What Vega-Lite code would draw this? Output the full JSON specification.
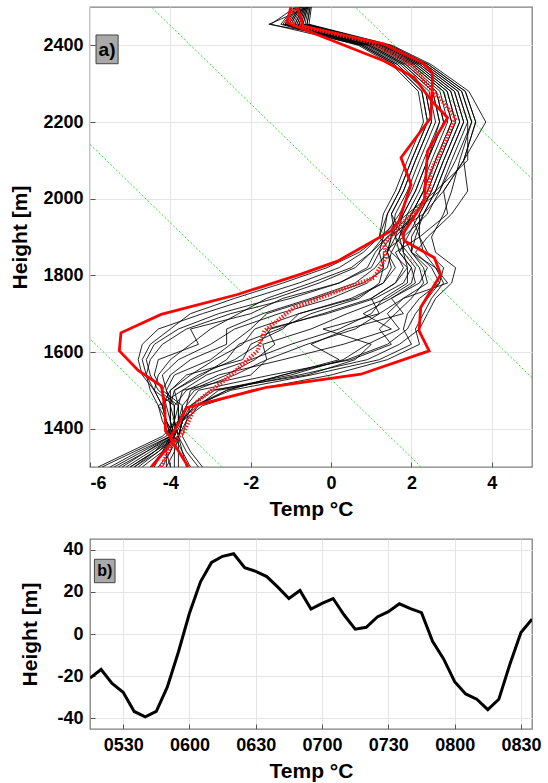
{
"$schema":"https://vega.github.io/schema/vega-lite/v6.json",
"padding":{"left":9,"top":6,"right":15,"bottom":5},
"spacing":18,
"config":{"font":"Liberation Sans","view":{"stroke":"#808080","strokeWidth":1.3},
"axis":{"labelFont":"Liberation Sans","labelFontSize":18,"labelFontWeight":"bold","labelColor":"#000","titleFont":"Liberation Sans","titleFontSize":21,"titleFontWeight":"bold","titleColor":"#000","gridColor":"#e4e4e4","gridWidth":1,"domain":false,"tickColor":"#555","tickSize":-5,"labelPadding":12}},
"datasets":{
"adiab":[{"l":"A","h":2500,"t":0.6},{"l":"A","h":1300,"t":12.36},{"l":"B","h":2500,"t":-4.475},{"l":"B","h":1300,"t":7.28},{"l":"C","h":2500,"t":-9.51},{"l":"C","h":1300,"t":2.24},{"l":"D","h":2500,"t":-14.5},{"l":"D","h":1300,"t":-2.72}],
"red":[
{"s":"cold","h":1300,"t":-4.47},{"s":"cold","h":1368,"t":-3.93},{"s":"cold","h":1394,"t":-4.12},{"s":"cold","h":1455,"t":-4.14},{"s":"cold","h":1511,"t":-4.22},{"s":"cold","h":1552,"t":-4.8},{"s":"cold","h":1603,"t":-5.27},{"s":"cold","h":1650,"t":-5.23},{"s":"cold","h":1698,"t":-4.23},{"s":"cold","h":1750,"t":-2.33},{"s":"cold","h":1803,"t":-0.75},{"s":"cold","h":1837,"t":0.16},{"s":"cold","h":1916,"t":1.49},{"s":"cold","h":1942,"t":1.69},{"s":"cold","h":2037,"t":1.99},{"s":"cold","h":2107,"t":1.74},{"s":"cold","h":2211,"t":2.48},{"s":"cold","h":2300,"t":2.52},{"s":"cold","h":2329,"t":2.52},{"s":"cold","h":2355,"t":2.27},{"s":"cold","h":2403,"t":1.32},{"s":"cold","h":2450,"t":-0.7},{"s":"cold","h":2470,"t":-0.75},{"s":"cold","h":2500,"t":-0.85},
{"s":"warm","h":1300,"t":-3.55},{"s":"warm","h":1376,"t":-4.0},{"s":"warm","h":1420,"t":-3.76},{"s":"warm","h":1455,"t":-3.6},{"s":"warm","h":1508,"t":-1.6},{"s":"warm","h":1542,"t":0.74},{"s":"warm","h":1603,"t":2.44},{"s":"warm","h":1655,"t":2.19},{"s":"warm","h":1716,"t":2.23},{"s":"warm","h":1802,"t":2.73},{"s":"warm","h":1846,"t":2.57},{"s":"warm","h":1890,"t":1.82},{"s":"warm","h":1907,"t":1.78},{"s":"warm","h":1994,"t":2.32},{"s":"warm","h":2124,"t":2.4},{"s":"warm","h":2211,"t":2.9},{"s":"warm","h":2255,"t":2.5},{"s":"warm","h":2316,"t":2.07},{"s":"warm","h":2359,"t":1.32},{"s":"warm","h":2459,"t":-1.1},{"s":"warm","h":2500,"t":-1.0},
{"s":"mean","h":1300,"t":-4.23},{"s":"mean","h":1359,"t":-3.98},{"s":"mean","h":1394,"t":-3.65},{"s":"mean","h":1472,"t":-3.32},{"s":"mean","h":1533,"t":-2.57},{"s":"mean","h":1603,"t":-1.83},{"s":"mean","h":1655,"t":-1.66},{"s":"mean","h":1716,"t":-0.92},{"s":"mean","h":1794,"t":1.07},{"s":"mean","h":1846,"t":1.36},{"s":"mean","h":1881,"t":1.32},{"s":"mean","h":1933,"t":1.74},{"s":"mean","h":1985,"t":2.27},{"s":"mean","h":2020,"t":2.44},{"s":"mean","h":2072,"t":2.48},{"s":"mean","h":2124,"t":2.73},{"s":"mean","h":2211,"t":3.1},{"s":"mean","h":2250,"t":2.8},{"s":"mean","h":2290,"t":2.45},{"s":"mean","h":2342,"t":2.07},{"s":"mean","h":2368,"t":1.74},{"s":"mean","h":2410,"t":0.9},{"s":"mean","h":2455,"t":-0.95},{"s":"mean","h":2470,"t":-1.05},{"s":"mean","h":2500,"t":-0.9}],
"ts":[{"time":"2020-01-01T05:15","dz":-20.9},{"time":"2020-01-01T05:20","dz":-16.8},{"time":"2020-01-01T05:25","dz":-23.4},{"time":"2020-01-01T05:30","dz":-27.6},{"time":"2020-01-01T05:35","dz":-36.7},{"time":"2020-01-01T05:40","dz":-39.2},{"time":"2020-01-01T05:45","dz":-36.7},{"time":"2020-01-01T05:50","dz":-25.1},{"time":"2020-01-01T05:55","dz":-8.5},{"time":"2020-01-01T06:00","dz":9.8},{"time":"2020-01-01T06:05","dz":24.7},{"time":"2020-01-01T06:10","dz":33.9},{"time":"2020-01-01T06:15","dz":36.8},{"time":"2020-01-01T06:20","dz":38.0},{"time":"2020-01-01T06:25","dz":31.4},{"time":"2020-01-01T06:30","dz":29.7},{"time":"2020-01-01T06:35","dz":27.2},{"time":"2020-01-01T06:40","dz":22.2},{"time":"2020-01-01T06:45","dz":16.8},{"time":"2020-01-01T06:50","dz":20.6},{"time":"2020-01-01T06:55","dz":11.8},{"time":"2020-01-01T07:00","dz":14.5},{"time":"2020-01-01T07:05","dz":16.8},{"time":"2020-01-01T07:10","dz":9.0},{"time":"2020-01-01T07:15","dz":2.3},{"time":"2020-01-01T07:20","dz":3.2},{"time":"2020-01-01T07:25","dz":8.1},{"time":"2020-01-01T07:30","dz":10.6},{"time":"2020-01-01T07:35","dz":14.3},{"time":"2020-01-01T07:40","dz":12.0},{"time":"2020-01-01T07:45","dz":10.1},{"time":"2020-01-01T07:50","dz":-3.5},{"time":"2020-01-01T07:55","dz":-11.8},{"time":"2020-01-01T08:00","dz":-22.6},{"time":"2020-01-01T08:05","dz":-28.4},{"time":"2020-01-01T08:10","dz":-30.9},{"time":"2020-01-01T08:15","dz":-35.8},{"time":"2020-01-01T08:20","dz":-30.9},{"time":"2020-01-01T08:25","dz":-14.3},{"time":"2020-01-01T08:30","dz":0.7},{"time":"2020-01-01T08:35","dz":7.0}],
"prof":[
{"p":1,"h":1300,"t":-5.7},{"p":1,"h":1340,"t":-4.9},{"p":1,"h":1380,"t":-4.1},{"p":1,"h":1420,"t":-3.9},{"p":1,"h":1460,"t":-3.8},{"p":1,"h":1500,"t":-4.3},{"p":1,"h":1540,"t":-4.5},{"p":1,"h":1580,"t":-4.6},{"p":1,"h":1620,"t":-4.4},{"p":1,"h":1660,"t":-3.8},{"p":1,"h":1700,"t":-2.8},{"p":1,"h":1740,"t":-1.4},{"p":1,"h":1780,"t":-0.3},{"p":1,"h":1820,"t":0.6},{"p":1,"h":1860,"t":1.0},{"p":1,"h":1900,"t":1.3},{"p":1,"h":1960,"t":1.7},{"p":1,"h":2020,"t":2.0},{"p":1,"h":2100,"t":2.3},{"p":1,"h":2200,"t":2.7},{"p":1,"h":2280,"t":2.53},{"p":1,"h":2350,"t":1.79},{"p":1,"h":2400,"t":0.92},{"p":1,"h":2455,"t":-1.05},{"p":1,"h":2500,"t":-0.79},
{"p":2,"h":1300,"t":-5.4},{"p":2,"h":1340,"t":-4.7},{"p":2,"h":1380,"t":-4.0},{"p":2,"h":1420,"t":-3.8},{"p":2,"h":1460,"t":-3.7},{"p":2,"h":1500,"t":-4.2},{"p":2,"h":1540,"t":-4.4},{"p":2,"h":1580,"t":-4.3},{"p":2,"h":1620,"t":-3.3},{"p":2,"h":1660,"t":-3.5},{"p":2,"h":1700,"t":-2.0},{"p":2,"h":1740,"t":-1.2},{"p":2,"h":1780,"t":0.2},{"p":2,"h":1820,"t":1.0},{"p":2,"h":1860,"t":1.2},{"p":2,"h":1900,"t":1.5},{"p":2,"h":1960,"t":2.1},{"p":2,"h":2020,"t":2.4},{"p":2,"h":2100,"t":2.7},{"p":2,"h":2200,"t":3.1},{"p":2,"h":2280,"t":2.89},{"p":2,"h":2350,"t":2.07},{"p":2,"h":2400,"t":1.16},{"p":2,"h":2455,"t":-0.85},{"p":2,"h":2500,"t":-0.67},
{"p":3,"h":1300,"t":-5.1},{"p":3,"h":1340,"t":-4.5},{"p":3,"h":1380,"t":-3.9},{"p":3,"h":1420,"t":-3.9},{"p":3,"h":1460,"t":-3.9},{"p":3,"h":1500,"t":-4.4},{"p":3,"h":1540,"t":-4.7},{"p":3,"h":1580,"t":-4.8},{"p":3,"h":1620,"t":-4.7},{"p":3,"h":1660,"t":-4.3},{"p":3,"h":1700,"t":-3.2},{"p":3,"h":1740,"t":-2.0},{"p":3,"h":1780,"t":-0.8},{"p":3,"h":1820,"t":0.2},{"p":3,"h":1860,"t":0.8},{"p":3,"h":1900,"t":1.2},{"p":3,"h":1960,"t":1.4},{"p":3,"h":2020,"t":1.7},{"p":3,"h":2100,"t":2.0},{"p":3,"h":2200,"t":2.4},{"p":3,"h":2280,"t":2.26},{"p":3,"h":2350,"t":1.58},{"p":3,"h":2400,"t":0.74},{"p":3,"h":2455,"t":-1.5},{"p":3,"h":2500,"t":-0.88},
{"p":4,"h":1300,"t":-4.8},{"p":4,"h":1340,"t":-4.3},{"p":4,"h":1380,"t":-3.9},{"p":4,"h":1420,"t":-4.0},{"p":4,"h":1460,"t":-4.0},{"p":4,"h":1500,"t":-4.1},{"p":4,"h":1540,"t":-4.2},{"p":4,"h":1580,"t":-3.8},{"p":4,"h":1620,"t":-3.0},{"p":4,"h":1660,"t":-2.4},{"p":4,"h":1700,"t":-1.3},{"p":4,"h":1740,"t":0.0},{"p":4,"h":1780,"t":0.9},{"p":4,"h":1820,"t":1.3},{"p":4,"h":1860,"t":1.3},{"p":4,"h":1900,"t":1.8},{"p":4,"h":1960,"t":2.4},{"p":4,"h":2020,"t":2.7},{"p":4,"h":2100,"t":3.0},{"p":4,"h":2200,"t":3.4},{"p":4,"h":2280,"t":3.16},{"p":4,"h":2350,"t":2.28},{"p":4,"h":2400,"t":1.34},{"p":4,"h":2455,"t":-0.7},{"p":4,"h":2500,"t":-0.58},
{"p":5,"h":1300,"t":-4.5},{"p":5,"h":1340,"t":-4.2},{"p":5,"h":1380,"t":-3.9},{"p":5,"h":1420,"t":-4.1},{"p":5,"h":1460,"t":-4.2},{"p":5,"h":1500,"t":-4.0},{"p":5,"h":1540,"t":-3.6},{"p":5,"h":1580,"t":-2.2},{"p":5,"h":1620,"t":-2.0},{"p":5,"h":1660,"t":-1.2},{"p":5,"h":1700,"t":-0.8},{"p":5,"h":1740,"t":0.5},{"p":5,"h":1780,"t":1.3},{"p":5,"h":1820,"t":1.5},{"p":5,"h":1860,"t":1.4},{"p":5,"h":1900,"t":1.5},{"p":5,"h":1960,"t":1.8},{"p":5,"h":2020,"t":2.1},{"p":5,"h":2100,"t":2.4},{"p":5,"h":2200,"t":2.8},{"p":5,"h":2280,"t":2.62},{"p":5,"h":2350,"t":1.86},{"p":5,"h":2400,"t":0.98},{"p":5,"h":2455,"t":-1.0},{"p":5,"h":2500,"t":-0.76},
{"p":6,"h":1300,"t":-4.2},{"p":6,"h":1340,"t":-4.0},{"p":6,"h":1380,"t":-3.9},{"p":6,"h":1420,"t":-3.8},{"p":6,"h":1460,"t":-3.8},{"p":6,"h":1500,"t":-3.9},{"p":6,"h":1540,"t":-3.3},{"p":6,"h":1580,"t":-2.4},{"p":6,"h":1620,"t":-1.8},{"p":6,"h":1660,"t":-1.5},{"p":6,"h":1700,"t":-0.2},{"p":6,"h":1740,"t":1.0},{"p":6,"h":1780,"t":1.6},{"p":6,"h":1820,"t":1.8},{"p":6,"h":1860,"t":1.6},{"p":6,"h":1900,"t":2.2},{"p":6,"h":1960,"t":2.9},{"p":6,"h":2020,"t":2.8},{"p":6,"h":2100,"t":3.3},{"p":6,"h":2200,"t":3.6},{"p":6,"h":2280,"t":3.34},{"p":6,"h":2350,"t":2.42},{"p":6,"h":2400,"t":1.46},{"p":6,"h":2455,"t":-0.6},{"p":6,"h":2500,"t":-0.52},
{"p":7,"h":1300,"t":-3.8},{"p":7,"h":1340,"t":-3.8},{"p":7,"h":1380,"t":-3.8},{"p":7,"h":1420,"t":-3.9},{"p":7,"h":1460,"t":-3.9},{"p":7,"h":1500,"t":-3.6},{"p":7,"h":1540,"t":-2.8},{"p":7,"h":1580,"t":-1.2},{"p":7,"h":1620,"t":0.3},{"p":7,"h":1660,"t":1.5},{"p":7,"h":1700,"t":0.8},{"p":7,"h":1740,"t":1.5},{"p":7,"h":1780,"t":2.1},{"p":7,"h":1820,"t":2.0},{"p":7,"h":1860,"t":1.7},{"p":7,"h":1900,"t":1.9},{"p":7,"h":1960,"t":2.2},{"p":7,"h":2020,"t":2.5},{"p":7,"h":2100,"t":2.8},{"p":7,"h":2200,"t":3.2},{"p":7,"h":2280,"t":2.98},{"p":7,"h":2350,"t":2.14},{"p":7,"h":2400,"t":1.22},{"p":7,"h":2455,"t":-0.8},{"p":7,"h":2500,"t":-0.64},
{"p":8,"h":1300,"t":-3.5},{"p":8,"h":1340,"t":-3.7},{"p":8,"h":1380,"t":-3.9},{"p":8,"h":1420,"t":-3.8},{"p":8,"h":1460,"t":-3.6},{"p":8,"h":1500,"t":-3.3},{"p":8,"h":1540,"t":-1.5},{"p":8,"h":1580,"t":0.5},{"p":8,"h":1620,"t":1.5},{"p":8,"h":1660,"t":1.2},{"p":8,"h":1700,"t":1.6},{"p":8,"h":1740,"t":2.0},{"p":8,"h":1780,"t":2.3},{"p":8,"h":1820,"t":2.2},{"p":8,"h":1860,"t":1.9},{"p":8,"h":1900,"t":1.6},{"p":8,"h":1960,"t":1.5},{"p":8,"h":2020,"t":1.8},{"p":8,"h":2100,"t":2.1},{"p":8,"h":2200,"t":2.5},{"p":8,"h":2280,"t":2.35},{"p":8,"h":2350,"t":1.65},{"p":8,"h":2400,"t":0.8},{"p":8,"h":2455,"t":-1.15},{"p":8,"h":2500,"t":-0.85},
{"p":9,"h":1300,"t":-3.3},{"p":9,"h":1340,"t":-3.6},{"p":9,"h":1380,"t":-3.8},{"p":9,"h":1420,"t":-3.7},{"p":9,"h":1460,"t":-3.4},{"p":9,"h":1500,"t":-2.5},{"p":9,"h":1540,"t":-0.5},{"p":9,"h":1580,"t":1.2},{"p":9,"h":1620,"t":2.0},{"p":9,"h":1660,"t":1.8},{"p":9,"h":1700,"t":1.9},{"p":9,"h":1740,"t":2.2},{"p":9,"h":1780,"t":2.7},{"p":9,"h":1820,"t":2.5},{"p":9,"h":1860,"t":2.1},{"p":9,"h":1900,"t":2.4},{"p":9,"h":1960,"t":3.0},{"p":9,"h":2020,"t":3.4},{"p":9,"h":2100,"t":3.3},{"p":9,"h":2200,"t":3.85},{"p":9,"h":2280,"t":3.43},{"p":9,"h":2350,"t":2.49},{"p":9,"h":2400,"t":1.52},{"p":9,"h":2455,"t":-0.55},{"p":9,"h":2500,"t":-0.49},
{"p":10,"h":1300,"t":-4.0},{"p":10,"h":1340,"t":-4.1},{"p":10,"h":1380,"t":-4.0},{"p":10,"h":1420,"t":-4.2},{"p":10,"h":1460,"t":-4.3},{"p":10,"h":1500,"t":-3.7},{"p":10,"h":1540,"t":-2.0},{"p":10,"h":1580,"t":-1.6},{"p":10,"h":1620,"t":-1.7},{"p":10,"h":1660,"t":-0.5},{"p":10,"h":1700,"t":0.4},{"p":10,"h":1740,"t":1.4},{"p":10,"h":1780,"t":2.0},{"p":10,"h":1820,"t":2.1},{"p":10,"h":1860,"t":1.8},{"p":10,"h":1900,"t":1.7},{"p":10,"h":1960,"t":1.9},{"p":10,"h":2020,"t":2.2},{"p":10,"h":2100,"t":2.5},{"p":10,"h":2200,"t":2.9},{"p":10,"h":2280,"t":2.71},{"p":10,"h":2350,"t":1.93},{"p":10,"h":2400,"t":1.04},{"p":10,"h":2455,"t":-0.95},{"p":10,"h":2500,"t":-0.73},
{"p":11,"h":1300,"t":-5.0},{"p":11,"h":1340,"t":-4.4},{"p":11,"h":1380,"t":-3.8},{"p":11,"h":1420,"t":-3.6},{"p":11,"h":1460,"t":-3.5},{"p":11,"h":1500,"t":-3.0},{"p":11,"h":1540,"t":-0.6},{"p":11,"h":1580,"t":0.6},{"p":11,"h":1620,"t":1.0},{"p":11,"h":1660,"t":-0.2},{"p":11,"h":1700,"t":1.2},{"p":11,"h":1740,"t":1.8},{"p":11,"h":1780,"t":2.9},{"p":11,"h":1820,"t":2.6},{"p":11,"h":1860,"t":2.0},{"p":11,"h":1900,"t":2.1},{"p":11,"h":1960,"t":2.3},{"p":11,"h":2020,"t":2.6},{"p":11,"h":2100,"t":2.9},{"p":11,"h":2200,"t":3.3},{"p":11,"h":2280,"t":3.07},{"p":11,"h":2350,"t":2.21},{"p":11,"h":2400,"t":1.28},{"p":11,"h":2455,"t":-0.75},{"p":11,"h":2500,"t":-0.61},
{"p":12,"h":1300,"t":-5.8},{"p":12,"h":1340,"t":-5.0},{"p":12,"h":1380,"t":-4.2},{"p":12,"h":1420,"t":-3.8},{"p":12,"h":1460,"t":-3.3},{"p":12,"h":1500,"t":-2.8},{"p":12,"h":1540,"t":-0.8},{"p":12,"h":1580,"t":0.9},{"p":12,"h":1620,"t":1.7},{"p":12,"h":1660,"t":2.2},{"p":12,"h":1700,"t":2.4},{"p":12,"h":1740,"t":2.6},{"p":12,"h":1780,"t":3.0},{"p":12,"h":1820,"t":3.1},{"p":12,"h":1860,"t":2.6},{"p":12,"h":1900,"t":2.5},{"p":12,"h":1960,"t":2.8},{"p":12,"h":2020,"t":3.0},{"p":12,"h":2100,"t":3.2},{"p":12,"h":2200,"t":3.5},{"p":12,"h":2280,"t":3.25},{"p":12,"h":2350,"t":2.35},{"p":12,"h":2400,"t":1.4},{"p":12,"h":2455,"t":-0.65},{"p":12,"h":2500,"t":-0.55},
{"p":13,"h":1300,"t":-5.2},{"p":13,"h":1340,"t":-4.6},{"p":13,"h":1380,"t":-4.0},{"p":13,"h":1420,"t":-4.0},{"p":13,"h":1460,"t":-4.0},{"p":13,"h":1500,"t":-4.0},{"p":13,"h":1540,"t":-3.5},{"p":13,"h":1580,"t":-2.9},{"p":13,"h":1620,"t":-2.2},{"p":13,"h":1660,"t":-1.9},{"p":13,"h":1700,"t":-0.8},{"p":13,"h":1740,"t":0.6},{"p":13,"h":1780,"t":1.3},{"p":13,"h":1820,"t":1.6},{"p":13,"h":1860,"t":1.4},{"p":13,"h":1900,"t":1.5},{"p":13,"h":1960,"t":1.6},{"p":13,"h":2020,"t":1.9},{"p":13,"h":2100,"t":2.2},{"p":13,"h":2200,"t":2.6},{"p":13,"h":2280,"t":2.44},{"p":13,"h":2350,"t":1.72},{"p":13,"h":2400,"t":0.86},{"p":13,"h":2455,"t":-1.1},{"p":13,"h":2500,"t":-0.82},
{"p":14,"h":1300,"t":-5.5},{"p":14,"h":1340,"t":-4.8},{"p":14,"h":1380,"t":-4.0},{"p":14,"h":1420,"t":-3.9},{"p":14,"h":1460,"t":-3.9},{"p":14,"h":1500,"t":-4.1},{"p":14,"h":1540,"t":-3.9},{"p":14,"h":1580,"t":-3.0},{"p":14,"h":1620,"t":-2.5},{"p":14,"h":1660,"t":-2.0},{"p":14,"h":1700,"t":-1.6},{"p":14,"h":1740,"t":-0.4},{"p":14,"h":1780,"t":0.8},{"p":14,"h":1820,"t":1.4},{"p":14,"h":1860,"t":1.5},{"p":14,"h":1900,"t":1.7},{"p":14,"h":1960,"t":2.0},{"p":14,"h":2020,"t":2.3},{"p":14,"h":2100,"t":2.6},{"p":14,"h":2200,"t":3.0},{"p":14,"h":2280,"t":2.8},{"p":14,"h":2350,"t":2.0},{"p":14,"h":2400,"t":1.1},{"p":14,"h":2455,"t":-0.9},{"p":14,"h":2500,"t":-0.7},
{"p":15,"h":1300,"t":-4.7},{"p":15,"h":1340,"t":-4.2},{"p":15,"h":1380,"t":-3.8},{"p":15,"h":1420,"t":-3.7},{"p":15,"h":1460,"t":-3.7},{"p":15,"h":1500,"t":-3.4},{"p":15,"h":1540,"t":-2.4},{"p":15,"h":1580,"t":-1.6},{"p":15,"h":1620,"t":-0.6},{"p":15,"h":1660,"t":0.6},{"p":15,"h":1700,"t":1.2},{"p":15,"h":1740,"t":1.0},{"p":15,"h":1780,"t":1.6},{"p":15,"h":1820,"t":1.9},{"p":15,"h":1860,"t":1.5},{"p":15,"h":1900,"t":1.2},{"p":15,"h":1960,"t":1.3},{"p":15,"h":2020,"t":1.6},{"p":15,"h":2100,"t":1.9},{"p":15,"h":2200,"t":2.3},{"p":15,"h":2280,"t":2.17},{"p":15,"h":2350,"t":1.51},{"p":15,"h":2400,"t":0.68},{"p":15,"h":2455,"t":-1.25},{"p":15,"h":2500,"t":-0.91},
{"p":16,"h":1300,"t":-4.3},{"p":16,"h":1340,"t":-4.0},{"p":16,"h":1380,"t":-3.8},{"p":16,"h":1420,"t":-3.7},{"p":16,"h":1460,"t":-3.5},{"p":16,"h":1500,"t":-2.9},{"p":16,"h":1540,"t":-1.0},{"p":16,"h":1580,"t":0.3},{"p":16,"h":1620,"t":0.9},{"p":16,"h":1660,"t":1.7},{"p":16,"h":1700,"t":1.4},{"p":16,"h":1740,"t":1.8},{"p":16,"h":1780,"t":2.4},{"p":16,"h":1820,"t":2.3},{"p":16,"h":1860,"t":2.0},{"p":16,"h":1900,"t":2.0},{"p":16,"h":1960,"t":2.3},{"p":16,"h":2020,"t":2.6},{"p":16,"h":2100,"t":2.9},{"p":16,"h":2200,"t":3.3},{"p":16,"h":2280,"t":3.07},{"p":16,"h":2350,"t":2.21},{"p":16,"h":2400,"t":1.28},{"p":16,"h":2455,"t":-0.75},{"p":16,"h":2500,"t":-0.61},
{"p":17,"h":1300,"t":-4.4},{"p":17,"h":1340,"t":-4.2},{"p":17,"h":1380,"t":-4.0},{"p":17,"h":1420,"t":-4.1},{"p":17,"h":1460,"t":-4.3},{"p":17,"h":1500,"t":-4.5},{"p":17,"h":1540,"t":-4.6},{"p":17,"h":1580,"t":-4.5},{"p":17,"h":1620,"t":-4.2},{"p":17,"h":1660,"t":-3.6},{"p":17,"h":1700,"t":-2.5},{"p":17,"h":1740,"t":-1.0},{"p":17,"h":1780,"t":0.2},{"p":17,"h":1820,"t":0.9},{"p":17,"h":1860,"t":1.1},{"p":17,"h":1900,"t":1.4},{"p":17,"h":1960,"t":2.0},{"p":17,"h":2020,"t":2.7},{"p":17,"h":2100,"t":3.1},{"p":17,"h":2200,"t":3.5},{"p":17,"h":2280,"t":3.25},{"p":17,"h":2350,"t":2.35},{"p":17,"h":2400,"t":1.4},{"p":17,"h":2455,"t":-1.55},{"p":17,"h":2500,"t":-0.55},
{"p":18,"h":1300,"t":-3.6},{"p":18,"h":1340,"t":-3.7},{"p":18,"h":1380,"t":-3.8},{"p":18,"h":1420,"t":-3.7},{"p":18,"h":1460,"t":-3.2},{"p":18,"h":1500,"t":-2.0},{"p":18,"h":1540,"t":0.0},{"p":18,"h":1580,"t":1.4},{"p":18,"h":1620,"t":2.2},{"p":18,"h":1660,"t":2.1},{"p":18,"h":1700,"t":2.3},{"p":18,"h":1740,"t":2.5},{"p":18,"h":1780,"t":2.8},{"p":18,"h":1820,"t":2.6},{"p":18,"h":1860,"t":2.3},{"p":18,"h":1900,"t":2.2},{"p":18,"h":1960,"t":2.0},{"p":18,"h":2020,"t":2.3},{"p":18,"h":2100,"t":2.4},{"p":18,"h":2200,"t":2.7},{"p":18,"h":2280,"t":2.53},{"p":18,"h":2350,"t":1.79},{"p":18,"h":2400,"t":0.92},{"p":18,"h":2455,"t":-1.05},{"p":18,"h":2500,"t":-0.79},
{"p":19,"h":1300,"t":-3.9},{"p":19,"h":1340,"t":-3.9},{"p":19,"h":1380,"t":-3.9},{"p":19,"h":1420,"t":-4.0},{"p":19,"h":1460,"t":-4.1},{"p":19,"h":1500,"t":-4.2},{"p":19,"h":1540,"t":-4.0},{"p":19,"h":1580,"t":-3.5},{"p":19,"h":1620,"t":-2.6},{"p":19,"h":1660,"t":-2.6},{"p":19,"h":1700,"t":-1.7},{"p":19,"h":1740,"t":-0.5},{"p":19,"h":1780,"t":0.6},{"p":19,"h":1820,"t":1.1},{"p":19,"h":1860,"t":1.4},{"p":19,"h":1900,"t":1.6},{"p":19,"h":1960,"t":2.1},{"p":19,"h":2020,"t":2.4},{"p":19,"h":2100,"t":2.7},{"p":19,"h":2200,"t":3.1},{"p":19,"h":2280,"t":2.89},{"p":19,"h":2350,"t":2.07},{"p":19,"h":2400,"t":1.16},{"p":19,"h":2455,"t":-0.85},{"p":19,"h":2500,"t":-0.67},
{"p":20,"h":1300,"t":-3.2},{"p":20,"h":1340,"t":-3.5},{"p":20,"h":1380,"t":-3.7},{"p":20,"h":1420,"t":-3.6},{"p":20,"h":1460,"t":-3.3},{"p":20,"h":1500,"t":-2.6},{"p":20,"h":1540,"t":-1.2},{"p":20,"h":1580,"t":0.2},{"p":20,"h":1620,"t":-0.5},{"p":20,"h":1660,"t":0.4},{"p":20,"h":1700,"t":1.8},{"p":20,"h":1740,"t":1.5},{"p":20,"h":1780,"t":2.2},{"p":20,"h":1820,"t":2.4},{"p":20,"h":1860,"t":2.0},{"p":20,"h":1900,"t":1.8},{"p":20,"h":1960,"t":1.5},{"p":20,"h":2020,"t":1.8},{"p":20,"h":2100,"t":2.1},{"p":20,"h":2200,"t":2.5},{"p":20,"h":2280,"t":2.35},{"p":20,"h":2350,"t":1.65},{"p":20,"h":2400,"t":0.8},{"p":20,"h":2455,"t":-1.15},{"p":20,"h":2500,"t":-0.85},
{"p":21,"h":1300,"t":-4.1},{"p":21,"h":1340,"t":-4.1},{"p":21,"h":1380,"t":-3.9},{"p":21,"h":1420,"t":-4.1},{"p":21,"h":1460,"t":-4.2},{"p":21,"h":1500,"t":-4.4},{"p":21,"h":1540,"t":-4.3},{"p":21,"h":1580,"t":-4.0},{"p":21,"h":1620,"t":-3.5},{"p":21,"h":1660,"t":-3.0},{"p":21,"h":1700,"t":-2.3},{"p":21,"h":1740,"t":-1.6},{"p":21,"h":1780,"t":-0.5},{"p":21,"h":1820,"t":0.5},{"p":21,"h":1860,"t":1.0},{"p":21,"h":1900,"t":1.4},{"p":21,"h":1960,"t":2.3},{"p":21,"h":2020,"t":2.8},{"p":21,"h":2100,"t":3.3},{"p":21,"h":2200,"t":3.6},{"p":21,"h":2280,"t":3.34},{"p":21,"h":2350,"t":2.42},{"p":21,"h":2400,"t":1.46},{"p":21,"h":2455,"t":-0.6},{"p":21,"h":2500,"t":-0.52},
{"p":22,"h":1300,"t":-4.9},{"p":22,"h":1340,"t":-4.3},{"p":22,"h":1380,"t":-3.8},{"p":22,"h":1420,"t":-3.7},{"p":22,"h":1460,"t":-3.6},{"p":22,"h":1500,"t":-3.5},{"p":22,"h":1540,"t":-2.6},{"p":22,"h":1580,"t":-1.9},{"p":22,"h":1620,"t":-1.4},{"p":22,"h":1660,"t":-1.6},{"p":22,"h":1700,"t":-0.1},{"p":22,"h":1740,"t":1.1},{"p":22,"h":1780,"t":1.8},{"p":22,"h":1820,"t":2.0},{"p":22,"h":1860,"t":1.7},{"p":22,"h":1900,"t":1.6},{"p":22,"h":1960,"t":1.8},{"p":22,"h":2020,"t":2.1},{"p":22,"h":2100,"t":2.4},{"p":22,"h":2200,"t":2.8},{"p":22,"h":2280,"t":2.62},{"p":22,"h":2350,"t":1.86},{"p":22,"h":2400,"t":0.98},{"p":22,"h":2455,"t":-1.0},{"p":22,"h":2500,"t":-0.76},
{"p":23,"h":1300,"t":-5.3},{"p":23,"h":1340,"t":-4.6},{"p":23,"h":1380,"t":-3.9},{"p":23,"h":1420,"t":-3.7},{"p":23,"h":1460,"t":-3.4},{"p":23,"h":1500,"t":-2.6},{"p":23,"h":1540,"t":-1.2},{"p":23,"h":1580,"t":0.4},{"p":23,"h":1620,"t":1.4},{"p":23,"h":1660,"t":1.9},{"p":23,"h":1700,"t":2.1},{"p":23,"h":1740,"t":2.4},{"p":23,"h":1780,"t":2.7},{"p":23,"h":1820,"t":2.8},{"p":23,"h":1860,"t":2.4},{"p":23,"h":1900,"t":2.2},{"p":23,"h":1960,"t":2.2},{"p":23,"h":2020,"t":2.5},{"p":23,"h":2100,"t":2.8},{"p":23,"h":2200,"t":3.2},{"p":23,"h":2280,"t":2.98},{"p":23,"h":2350,"t":2.14},{"p":23,"h":2400,"t":1.22},{"p":23,"h":2455,"t":-0.8},{"p":23,"h":2500,"t":-0.64},
{"p":24,"h":1300,"t":-4.9},{"p":24,"h":1340,"t":-4.4},{"p":24,"h":1380,"t":-4.0},{"p":24,"h":1420,"t":-4.1},{"p":24,"h":1460,"t":-4.2},{"p":24,"h":1500,"t":-4.4},{"p":24,"h":1540,"t":-4.6},{"p":24,"h":1580,"t":-4.7},{"p":24,"h":1620,"t":-4.5},{"p":24,"h":1660,"t":-4.0},{"p":24,"h":1700,"t":-3.5},{"p":24,"h":1740,"t":-2.4},{"p":24,"h":1780,"t":-1.2},{"p":24,"h":1820,"t":-0.1},{"p":24,"h":1860,"t":0.7},{"p":24,"h":1900,"t":1.2},{"p":24,"h":1960,"t":1.9},{"p":24,"h":2020,"t":2.6},{"p":24,"h":2100,"t":3.4},{"p":24,"h":2200,"t":3.4},{"p":24,"h":2280,"t":3.16},{"p":24,"h":2350,"t":2.28},{"p":24,"h":2400,"t":1.34},{"p":24,"h":2455,"t":-0.7},{"p":24,"h":2500,"t":-0.58},
{"p":25,"h":1300,"t":-4.1},{"p":25,"h":1340,"t":-3.9},{"p":25,"h":1380,"t":-3.8},{"p":25,"h":1420,"t":-3.9},{"p":25,"h":1460,"t":-4.0},{"p":25,"h":1500,"t":-3.9},{"p":25,"h":1540,"t":-3.2},{"p":25,"h":1580,"t":-2.6},{"p":25,"h":1620,"t":-2.3},{"p":25,"h":1660,"t":-1.3},{"p":25,"h":1700,"t":-0.5},{"p":25,"h":1740,"t":0.7},{"p":25,"h":1780,"t":1.2},{"p":25,"h":1820,"t":1.3},{"p":25,"h":1860,"t":1.2},{"p":25,"h":1900,"t":1.3},{"p":25,"h":1960,"t":1.4},{"p":25,"h":2020,"t":1.7},{"p":25,"h":2100,"t":2.0},{"p":25,"h":2200,"t":2.4},{"p":25,"h":2280,"t":2.26},{"p":25,"h":2350,"t":1.58},{"p":25,"h":2400,"t":0.74},{"p":25,"h":2455,"t":-1.2},{"p":25,"h":2500,"t":-0.88},
{"p":26,"h":1300,"t":-5.0},{"p":26,"h":1340,"t":-4.4},{"p":26,"h":1380,"t":-3.9},{"p":26,"h":1420,"t":-3.8},{"p":26,"h":1460,"t":-3.8},{"p":26,"h":1500,"t":-3.7},{"p":26,"h":1540,"t":-3.1},{"p":26,"h":1580,"t":-2.0},{"p":26,"h":1620,"t":-1.0},{"p":26,"h":1660,"t":0.2},{"p":26,"h":1700,"t":1.0},{"p":26,"h":1740,"t":1.3},{"p":26,"h":1780,"t":1.9},{"p":26,"h":1820,"t":1.9},{"p":26,"h":1860,"t":1.8},{"p":26,"h":1900,"t":1.8},{"p":26,"h":1960,"t":2.0},{"p":26,"h":2020,"t":2.3},{"p":26,"h":2100,"t":2.6},{"p":26,"h":2200,"t":3.0},{"p":26,"h":2280,"t":2.8},{"p":26,"h":2350,"t":2.0},{"p":26,"h":2400,"t":1.1},{"p":26,"h":2455,"t":-0.9},{"p":26,"h":2500,"t":-0.7}
]},
"vconcat":[
{"width":442,"height":460,
"layer":[
{"data":{"name":"adiab"},"mark":{"type":"line","color":"#2fe02f","strokeWidth":1,"strokeDash":[2,2],"clip":true},
"encoding":{"x":{"field":"t","type":"quantitative","scale":{"domain":[-6,5],"nice":false,"zero":false},"axis":{"values":[-6,-4,-2,0,2,4],"labelExpr":"toString(datum.value)","labelFontWeight":"bold","title":"Temp °C","titlePadding":6}},
"y":{"field":"h","type":"quantitative","scale":{"domain":[1300,2500],"nice":false,"zero":false},"axis":{"values":[1400,1600,1800,2000,2200,2400],"labelExpr":"toString(datum.value)","labelFontWeight":"bold","title":"Height [m]","titlePadding":12}},
"detail":{"field":"l"},"order":{"field":"h","type":"quantitative"}}},
{"data":{"name":"prof"},"mark":{"type":"line","color":"#000","strokeWidth":1,"opacity":0.85,"clip":true},
"encoding":{"x":{"field":"t","type":"quantitative"},"y":{"field":"h","type":"quantitative"},"detail":{"field":"p"},"order":{"field":"h","type":"quantitative"}}},
{"data":{"name":"red"},"transform":[{"filter":"datum.s != 'mean'"}],"mark":{"type":"line","color":"#ff0000","strokeWidth":2.8,"clip":true},
"encoding":{"x":{"field":"t","type":"quantitative"},"y":{"field":"h","type":"quantitative"},"detail":{"field":"s"},"order":{"field":"h","type":"quantitative"}}},
{"data":{"name":"red"},"transform":[{"filter":"datum.s == 'mean'"}],"mark":{"type":"line","color":"#ff1a1a","strokeWidth":4,"strokeDash":[1.5,1.5],"clip":true},
"encoding":{"x":{"field":"t","type":"quantitative"},"y":{"field":"h","type":"quantitative"},"order":{"field":"h","type":"quantitative"}}},
{"data":{"values":[{}]},"mark":{"type":"rect","fill":"#a9a9a9","stroke":"#444","strokeWidth":1},
"encoding":{"x":{"datum":-5.85},"x2":{"datum":-5.3},"y":{"datum":2427},"y2":{"datum":2352}}},
{"data":{"values":[{}]},"mark":{"type":"text","text":"a)","font":"Liberation Sans","fontSize":19,"fontWeight":"bold","color":"#000","align":"center","baseline":"middle"},
"encoding":{"x":{"datum":-5.575},"y":{"datum":2389}}}
]},
{"width":442,"height":190,
"layer":[
{"data":{"name":"ts"},"mark":{"type":"line","color":"#000","strokeWidth":3,"clip":true},
"encoding":{"x":{"field":"time","type":"temporal","scale":{"domain":[{"year":2020,"month":1,"date":1,"hours":5,"minutes":15},{"year":2020,"month":1,"date":1,"hours":8,"minutes":35}]},
"axis":{"values":[{"year":2020,"month":1,"date":1,"hours":5,"minutes":30},{"year":2020,"month":1,"date":1,"hours":6,"minutes":0},{"year":2020,"month":1,"date":1,"hours":6,"minutes":30},{"year":2020,"month":1,"date":1,"hours":7,"minutes":0},{"year":2020,"month":1,"date":1,"hours":7,"minutes":30},{"year":2020,"month":1,"date":1,"hours":8,"minutes":0},{"year":2020,"month":1,"date":1,"hours":8,"minutes":30}],"format":"%H%M","labelFontWeight":"bold","title":"Temp °C","titlePadding":6}},
"y":{"field":"dz","type":"quantitative","scale":{"domain":[-45,45],"nice":false,"zero":false},"axis":{"values":[-40,-20,0,20,40],"labelExpr":"toString(datum.value)","labelFontWeight":"bold","title":"Height [m]","titlePadding":16}}}},
{"data":{"values":[{}]},"mark":{"type":"rect","fill":"#a9a9a9","stroke":"#444","strokeWidth":1},
"encoding":{"x":{"datum":{"year":2020,"month":1,"date":1,"hours":5,"minutes":17},"type":"temporal"},"x2":{"datum":{"year":2020,"month":1,"date":1,"hours":5,"minutes":26,"seconds":20}},"y":{"datum":35.4},"y2":{"datum":24.3}}},
{"data":{"values":[{}]},"mark":{"type":"text","text":"b)","font":"Liberation Sans","fontSize":16,"fontWeight":"bold","color":"#000","align":"center","baseline":"middle"},
"encoding":{"x":{"datum":{"year":2020,"month":1,"date":1,"hours":5,"minutes":21,"seconds":40},"type":"temporal"},"y":{"datum":29.8}}}
]}
]
}
